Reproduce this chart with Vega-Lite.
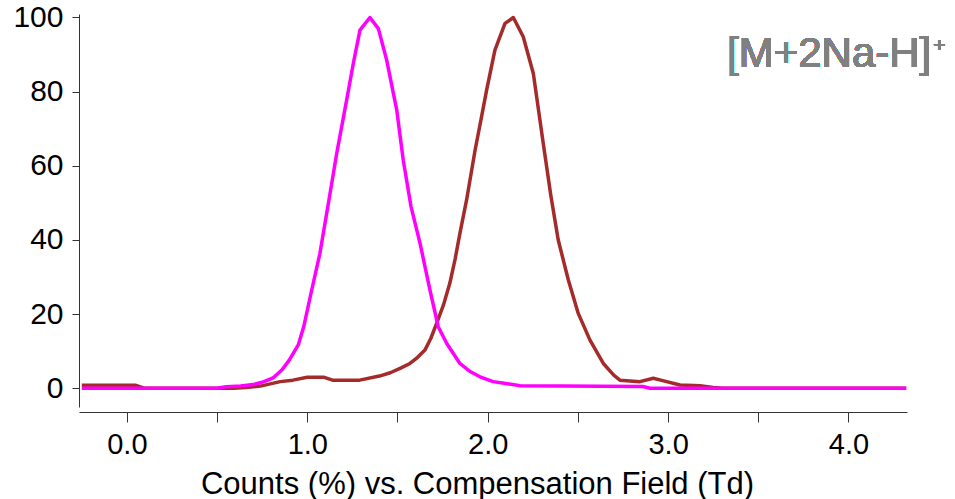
{
  "$schema": "https://vega.github.io/schema/vega-lite/v6.json",
  "width": 828,
  "height": 393,
  "autosize": "none",
  "padding": {"left": 79, "top": 14, "right": 48, "bottom": 92},
  "background": "white",
  "config": {"view": {"stroke": null}, "font": "Liberation Sans"},
  "datasets": {
    "traces": [
      {"field_td": -0.25, "counts_pct": 0.8, "ion": "isomer_2"},
      {"field_td": 0.05, "counts_pct": 0.8, "ion": "isomer_2"},
      {"field_td": 0.10, "counts_pct": 0, "ion": "isomer_2"},
      {"field_td": 0.59, "counts_pct": 0, "ion": "isomer_2"},
      {"field_td": 0.66, "counts_pct": 0.2, "ion": "isomer_2"},
      {"field_td": 0.74, "counts_pct": 0.6, "ion": "isomer_2"},
      {"field_td": 0.85, "counts_pct": 1.8, "ion": "isomer_2"},
      {"field_td": 0.92, "counts_pct": 2.2, "ion": "isomer_2"},
      {"field_td": 1.0, "counts_pct": 3.0, "ion": "isomer_2"},
      {"field_td": 1.09, "counts_pct": 3.0, "ion": "isomer_2"},
      {"field_td": 1.14, "counts_pct": 2.2, "ion": "isomer_2"},
      {"field_td": 1.29, "counts_pct": 2.2, "ion": "isomer_2"},
      {"field_td": 1.40, "counts_pct": 3.3, "ion": "isomer_2"},
      {"field_td": 1.46, "counts_pct": 4.2, "ion": "isomer_2"},
      {"field_td": 1.52, "counts_pct": 5.5, "ion": "isomer_2"},
      {"field_td": 1.569, "counts_pct": 6.7, "ion": "isomer_2"},
      {"field_td": 1.61, "counts_pct": 8.3, "ion": "isomer_2"},
      {"field_td": 1.652, "counts_pct": 10.3, "ion": "isomer_2"},
      {"field_td": 1.685, "counts_pct": 13.5, "ion": "isomer_2"},
      {"field_td": 1.717, "counts_pct": 17.5, "ion": "isomer_2"},
      {"field_td": 1.755, "counts_pct": 22.5, "ion": "isomer_2"},
      {"field_td": 1.79, "counts_pct": 28.3, "ion": "isomer_2"},
      {"field_td": 1.82, "counts_pct": 35.0, "ion": "isomer_2"},
      {"field_td": 1.846, "counts_pct": 41.8, "ion": "isomer_2"},
      {"field_td": 1.883, "counts_pct": 50.8, "ion": "isomer_2"},
      {"field_td": 1.93, "counts_pct": 64.2, "ion": "isomer_2"},
      {"field_td": 1.965, "counts_pct": 73.0, "ion": "isomer_2"},
      {"field_td": 1.994, "counts_pct": 80.4, "ion": "isomer_2"},
      {"field_td": 2.04, "counts_pct": 91.2, "ion": "isomer_2"},
      {"field_td": 2.096, "counts_pct": 98.4, "ion": "isomer_2"},
      {"field_td": 2.142, "counts_pct": 100, "ion": "isomer_2"},
      {"field_td": 2.197, "counts_pct": 94.8, "ion": "isomer_2"},
      {"field_td": 2.253, "counts_pct": 84.9, "ion": "isomer_2"},
      {"field_td": 2.308, "counts_pct": 66.0, "ion": "isomer_2"},
      {"field_td": 2.35, "counts_pct": 52.0, "ion": "isomer_2"},
      {"field_td": 2.391, "counts_pct": 40.0, "ion": "isomer_2"},
      {"field_td": 2.447, "counts_pct": 29.2, "ion": "isomer_2"},
      {"field_td": 2.502, "counts_pct": 20.2, "ion": "isomer_2"},
      {"field_td": 2.567, "counts_pct": 13.0, "ion": "isomer_2"},
      {"field_td": 2.641, "counts_pct": 6.7, "ion": "isomer_2"},
      {"field_td": 2.70, "counts_pct": 3.5, "ion": "isomer_2"},
      {"field_td": 2.733, "counts_pct": 2.2, "ion": "isomer_2"},
      {"field_td": 2.844, "counts_pct": 1.8, "ion": "isomer_2"},
      {"field_td": 2.918, "counts_pct": 2.7, "ion": "isomer_2"},
      {"field_td": 2.992, "counts_pct": 1.8, "ion": "isomer_2"},
      {"field_td": 3.066, "counts_pct": 0.9, "ion": "isomer_2"},
      {"field_td": 3.177, "counts_pct": 0.7, "ion": "isomer_2"},
      {"field_td": 3.25, "counts_pct": 0.2, "ion": "isomer_2"},
      {"field_td": 3.30, "counts_pct": 0, "ion": "isomer_2"},
      {"field_td": 4.32, "counts_pct": 0, "ion": "isomer_2"},
      {"field_td": -0.25, "counts_pct": 0, "ion": "isomer_1"},
      {"field_td": 0.50, "counts_pct": 0, "ion": "isomer_1"},
      {"field_td": 0.55, "counts_pct": 0.4, "ion": "isomer_1"},
      {"field_td": 0.63, "counts_pct": 0.6, "ion": "isomer_1"},
      {"field_td": 0.70, "counts_pct": 1.0, "ion": "isomer_1"},
      {"field_td": 0.76, "counts_pct": 1.8, "ion": "isomer_1"},
      {"field_td": 0.81, "counts_pct": 2.8, "ion": "isomer_1"},
      {"field_td": 0.86, "counts_pct": 5.0, "ion": "isomer_1"},
      {"field_td": 0.90, "counts_pct": 7.6, "ion": "isomer_1"},
      {"field_td": 0.95, "counts_pct": 11.7, "ion": "isomer_1"},
      {"field_td": 0.98, "counts_pct": 16.6, "ion": "isomer_1"},
      {"field_td": 1.02, "counts_pct": 25.5, "ion": "isomer_1"},
      {"field_td": 1.07, "counts_pct": 36.4, "ion": "isomer_1"},
      {"field_td": 1.12, "counts_pct": 50.8, "ion": "isomer_1"},
      {"field_td": 1.163, "counts_pct": 63.3, "ion": "isomer_1"},
      {"field_td": 1.218, "counts_pct": 77.7, "ion": "isomer_1"},
      {"field_td": 1.255, "counts_pct": 87.6, "ion": "isomer_1"},
      {"field_td": 1.292, "counts_pct": 96.6, "ion": "isomer_1"},
      {"field_td": 1.347, "counts_pct": 100, "ion": "isomer_1"},
      {"field_td": 1.394, "counts_pct": 97.0, "ion": "isomer_1"},
      {"field_td": 1.44, "counts_pct": 88.5, "ion": "isomer_1"},
      {"field_td": 1.496, "counts_pct": 75.0, "ion": "isomer_1"},
      {"field_td": 1.532, "counts_pct": 61.5, "ion": "isomer_1"},
      {"field_td": 1.575, "counts_pct": 49.0, "ion": "isomer_1"},
      {"field_td": 1.625, "counts_pct": 39.1, "ion": "isomer_1"},
      {"field_td": 1.68, "counts_pct": 26.5, "ion": "isomer_1"},
      {"field_td": 1.726, "counts_pct": 16.6, "ion": "isomer_1"},
      {"field_td": 1.773, "counts_pct": 12.1, "ion": "isomer_1"},
      {"field_td": 1.846, "counts_pct": 6.7, "ion": "isomer_1"},
      {"field_td": 1.90, "counts_pct": 4.6, "ion": "isomer_1"},
      {"field_td": 1.957, "counts_pct": 3.1, "ion": "isomer_1"},
      {"field_td": 2.03, "counts_pct": 1.8, "ion": "isomer_1"},
      {"field_td": 2.10, "counts_pct": 1.3, "ion": "isomer_1"},
      {"field_td": 2.18, "counts_pct": 0.7, "ion": "isomer_1"},
      {"field_td": 2.86, "counts_pct": 0.5, "ion": "isomer_1"},
      {"field_td": 2.90, "counts_pct": 0, "ion": "isomer_1"},
      {"field_td": 4.32, "counts_pct": 0, "ion": "isomer_1"}
    ]
  },
  "data": {"name": "traces"},
  "layer": [
    {
      "mark": {"type": "line", "strokeWidth": 3.5, "strokeJoin": "round"},
      "encoding": {
        "x": {
          "field": "field_td",
          "type": "quantitative",
          "scale": {"domain": [-0.2655, 4.3243], "nice": false, "zero": false},
          "axis": {
            "values": [0, 0.5, 1, 1.5, 2, 2.5, 3, 3.5, 4],
            "labelExpr": "datum.value % 1 === 0 ? format(datum.value, '.1f') : ''",
            "offset": 5,
            "grid": false,
            "domainColor": "#333333",
            "tickColor": "#333333",
            "tickSize": 10,
            "labelFontSize": 29,
            "labelColor": "black",
            "labelPadding": 8,
            "title": "Counts (%) vs. Compensation Field (Td)",
            "titleFontSize": 31,
            "titleFontWeight": "normal",
            "titleColor": "black",
            "titleX": 398,
            "titleY": 81,
            "titleBaseline": "alphabetic",
            "titleAlign": "center"
          }
        },
        "y": {
          "field": "counts_pct",
          "type": "quantitative",
          "scale": {"domain": [-5.04, 100.94], "nice": false},
          "axis": {
            "values": [0, 10, 20, 30, 40, 50, 60, 70, 80, 90, 100],
            "labelExpr": "datum.value % 20 === 0 ? datum.label : ''",
            "grid": false,
            "domainColor": "#333333",
            "tickColor": "#333333",
            "tickSize": 7,
            "labelFontSize": 30,
            "labelColor": "black",
            "labelPadding": 9,
            "title": null
          }
        },
        "color": {
          "field": "ion",
          "type": "nominal",
          "scale": {"domain": ["isomer_2", "isomer_1"], "range": ["#a52a2a", "#ff00ff"]},
          "legend": null
        }
      }
    },
    {
      "mark": {"type": "text", "text": "[M+2Na-H]", "align": "left", "baseline": "alphabetic", "fontSize": 42, "color": "#808080"},
      "encoding": {"x": {"datum": 3.3266}, "y": {"datum": 86.6}}
    },
    {
      "mark": {"type": "text", "text": "+", "align": "left", "baseline": "alphabetic", "fontSize": 21, "color": "#808080"},
      "encoding": {"x": {"datum": 4.47}, "y": {"datum": 90.6}}
    }
  ]
}
